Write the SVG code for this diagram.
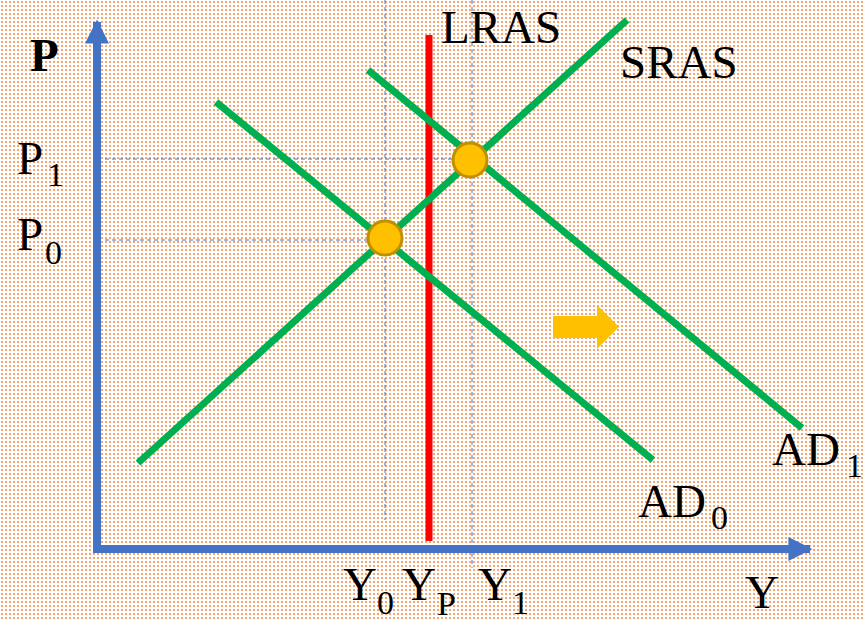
<svg xmlns="http://www.w3.org/2000/svg" width="864" height="621" viewBox="0 0 864 621">
<defs>
<pattern id="dots" x="0" y="0" width="4" height="4" patternUnits="userSpaceOnUse">
<rect x="1" y="1" width="2" height="2" fill="#F6A571"/>
</pattern>
<marker id="ah" viewBox="0 0 10 10" refX="9" refY="5" markerWidth="3.2" markerHeight="3" orient="auto" markerUnits="strokeWidth">
<path d="M0,0 L10,5 L0,10 Z" fill="#4472C4"/>
</marker>
<style>
.axis{stroke:#4472C4;stroke-width:8;fill:none}
.guide{stroke:#4472C4;stroke-width:1;stroke-dasharray:4 3;fill:none}
.curve{stroke:#00B050;stroke-width:7;fill:none}
.lras{stroke:#FF0000;stroke-width:7;fill:none}
.eq{fill:#FFC000;stroke:#BF9000;stroke-width:3}
.lbl{font-family:"Liberation Serif","DejaVu Serif",serif;font-size:47px;fill:#000}
.sub{font-size:34px}
</style>
</defs>
<rect width="864" height="621" fill="#FFFFFF"/>
<rect width="864" height="621" fill="url(#dots)"/>

<g id="guides">
<line class="guide" x1="385" y1="0" x2="385" y2="520"/>
<line class="guide" x1="472" y1="0" x2="472" y2="568"/>
<line class="guide" x1="105" y1="159" x2="471" y2="159"/>
<line class="guide" x1="105" y1="240" x2="385" y2="240"/>
</g>

<g id="connectors">
<line class="axis" x1="97" y1="552" x2="97" y2="22" marker-end="url(#ah)"/>
<line class="axis" x1="93" y1="549" x2="810" y2="549" marker-end="url(#ah)"/>
</g>

<g id="LRAS">
<line class="lras" x1="429" y1="35" x2="429" y2="541"/>
<text class="lbl" x="441" y="43">LRAS</text>
</g>
<g id="SRAS">
<line class="curve" x1="138" y1="463" x2="627" y2="20"/>
<text class="lbl" x="620" y="78">SRAS</text>
</g>
<g id="AD0">
<line class="curve" x1="216" y1="102" x2="653" y2="460"/>
<text class="lbl" x="638" y="517">AD<tspan class="sub" x="711" y="529">0</tspan></text>
</g>
<g id="AD1">
<line class="curve" x1="368" y1="70" x2="802" y2="428"/>
<text class="lbl" x="772" y="465">AD<tspan class="sub" x="846" y="477">1</tspan></text>
</g>

<g id="eq0"><circle class="eq" cx="385" cy="238" r="17"/></g>
<g id="eq1"><circle class="eq" cx="470" cy="160" r="17"/></g>

<g id="shift-arrow">
<path d="M553,316 L597,316 L597,305 L619,327 L597,349 L597,338 L553,338 Z" fill="#FFC000"/>
</g>

<g id="labels">
<text class="lbl" x="30" y="71" font-weight="bold">P</text>
<text class="lbl" x="17" y="174">P<tspan class="sub" x="47" y="186">1</tspan></text>
<text class="lbl" x="17" y="250">P<tspan class="sub" x="45" y="264">0</tspan></text>
<text class="lbl" x="343" y="600">Y<tspan class="sub" x="377" y="614">0</tspan></text>
<text class="lbl" x="402" y="600">Y<tspan class="sub" x="437" y="615">P</tspan></text>
<text class="lbl" x="478" y="600">Y<tspan class="sub" x="512" y="614">1</tspan></text>
<text class="lbl" x="745" y="608">Y</text>
</g>
</svg>
